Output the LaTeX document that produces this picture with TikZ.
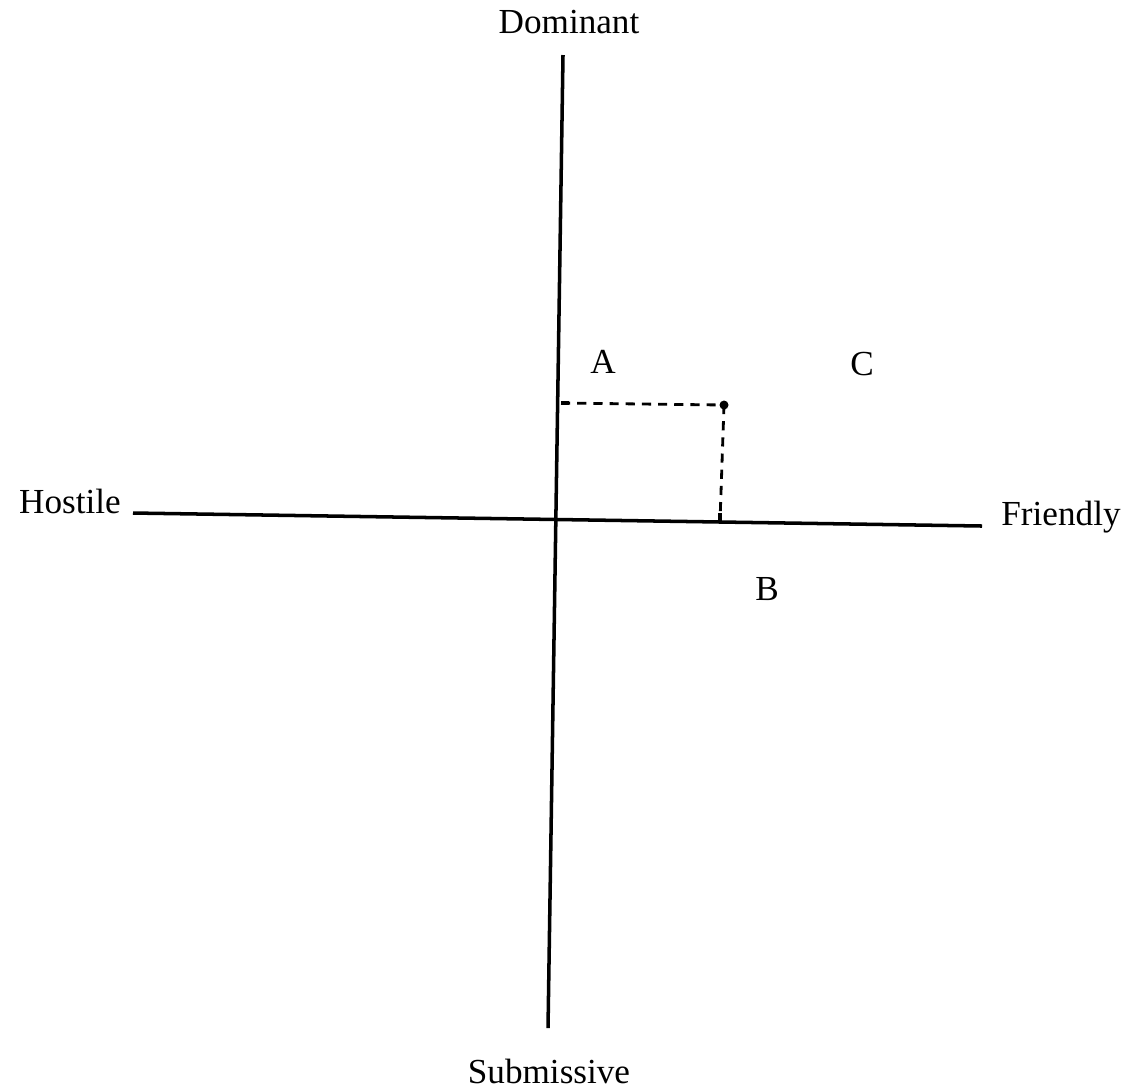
\documentclass[tikz,border=0pt]{standalone}
\usepackage{fontspec}
\setmainfont{Liberation Serif}
\begin{document}
\begin{tikzpicture}[x=0.01cm, y=-0.01cm,
  axis/.style={line width=1pt},
  proj/.style={line width=0.8pt, dash pattern=on 2.6pt off 2pt},
  lbl/.style={font=\fontsize{10}{12}\selectfont, inner sep=0pt}]

\useasboundingbox (0,0) rectangle (1128,1090);

% axes
\coordinate (dtop) at (563,55);
\coordinate (dbot) at (548,1028);
\coordinate (hleft) at (133,513);
\coordinate (hright) at (982,526);
\draw[axis] (dtop) -- (dbot);
\draw[axis] (hleft) -- (hright);

\node[lbl] (dom) at (569,22) {Dominant};
\node[lbl] (sub) at (549,1071) {Submissive};
\node[lbl] (hos) at (70,501) {Hostile};
\node[lbl] (fri) at (1061,517) {Friendly};

% point and its projections
\coordinate (pt) at (724,405);
\coordinate (py) at (561,403);
\coordinate (px) at (720,521);
\draw[proj] (py) -- (pt);
\draw[proj] (pt) -- (px);
\fill (pt) circle (4.5);
\draw[line width=1pt] (py) -- ++(8,0);
\draw[line width=1pt] (px) -- ++(0,-8);

\node[lbl] (a) at (603,362) {A};
\node[lbl] (c) at (862,364) {C};
\node[lbl] (b) at (767,589) {B};

\end{tikzpicture}
\end{document}
